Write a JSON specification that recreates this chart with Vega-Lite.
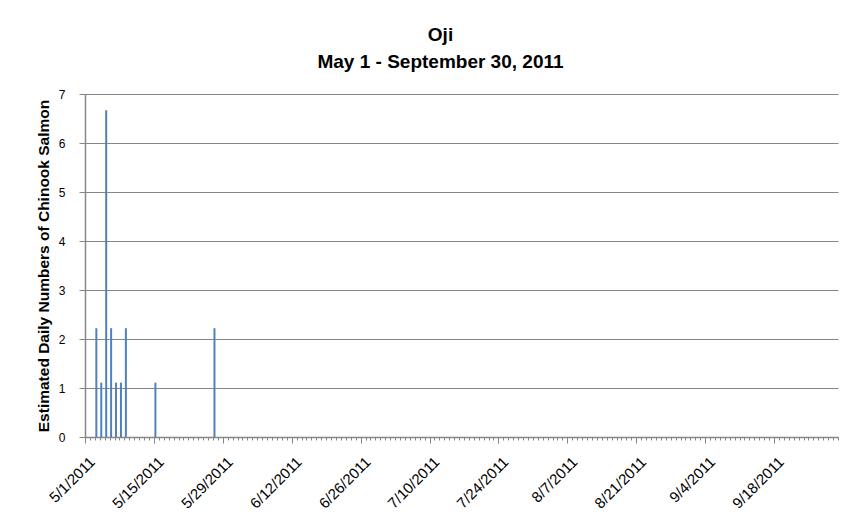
{
  "$schema": "https://vega.github.io/schema/vega-lite/v6.json",
  "width": 753,
  "height": 343,
  "autosize": "none",
  "padding": {"left": 85, "top": 94, "right": 24, "bottom": 87},
  "background": "white",
  "title": {
    "text": ["Oji", "May 1 - September 30, 2011"],
    "font": "Liberation Sans",
    "fontSize": 19,
    "fontWeight": "bold",
    "color": "#000000",
    "anchor": "middle",
    "dx": -21,
    "offset": 16,
    "lineHeight": 27
  },
  "config": {
    "view": {"stroke": null},
    "axis": {
      "labelFont": "Liberation Sans",
      "titleFont": "Liberation Sans",
      "labelColor": "#000000",
      "titleColor": "#000000",
      "domainColor": "#868686",
      "tickColor": "#868686",
      "gridColor": "#868686",
      "gridWidth": 1
    }
  },
  "data": {
    "values": [
      {"date": "2011-05-03", "count": 2.22},
      {"date": "2011-05-04", "count": 1.11},
      {"date": "2011-05-05", "count": 6.67},
      {"date": "2011-05-06", "count": 2.22},
      {"date": "2011-05-07", "count": 1.11},
      {"date": "2011-05-08", "count": 1.11},
      {"date": "2011-05-09", "count": 2.22},
      {"date": "2011-05-15", "count": 1.11},
      {"date": "2011-05-27", "count": 2.22}
    ]
  },
  "resolve": {"axis": {"x": "independent"}},
  "layer": [
    {
      "mark": {"type": "rule", "opacity": 0},
      "encoding": {
        "x": {
          "field": "date",
          "type": "temporal",
          "scale": {"type": "utc", "domain": ["2011-05-01", "2011-10-01"], "nice": false, "padding": 0},
          "axis": {
            "orient": "bottom",
            "title": null,
            "labels": false,
            "domain": false,
            "grid": false,
            "tickCount": {"interval": "day", "step": 1},
            "tickSize": 3,
            "tickWidth": 1
          }
        }
      }
    },
    {
      "mark": {"type": "bar", "width": 2, "xOffset": 1.5, "color": "#4f81bd"},
      "encoding": {
        "x": {
          "field": "date",
          "type": "temporal",
          "scale": {"padding": 0},
          "axis": {
            "orient": "bottom",
            "title": null,
            "values": ["2011-05-01", "2011-05-15", "2011-05-29", "2011-06-12", "2011-06-26", "2011-07-10", "2011-07-24", "2011-08-07", "2011-08-21", "2011-09-04", "2011-09-18"],
            "labelExpr": "utcFormat(datum.value, '%-m/%-d/%Y')",
            "labelAngle": -45,
            "labelAlign": "right",
            "labelBaseline": "top",
            "labelFontSize": 15,
            "labelPadding": 11,
            "labelOffset": 2,
            "labelFlush": false,
            "labelOverlap": false,
            "tickSize": 6,
            "tickWidth": 1,
            "domainWidth": 1.5,
            "grid": false
          }
        },
        "y": {
          "field": "count",
          "type": "quantitative",
          "scale": {"domain": [0, 7], "nice": false},
          "axis": {
            "title": "Estimated Daily  Numbers of Chinook Salmon",
            "titleFontSize": 15.5,
            "titleFontWeight": "bold",
            "titlePadding": 7,
            "values": [0, 1, 2, 3, 4, 5, 6, 7],
            "labelFontSize": 12,
            "labelPadding": 14,
            "tickSize": 6,
            "domainWidth": 1.5,
            "grid": true
          }
        }
      }
    }
  ]
}
